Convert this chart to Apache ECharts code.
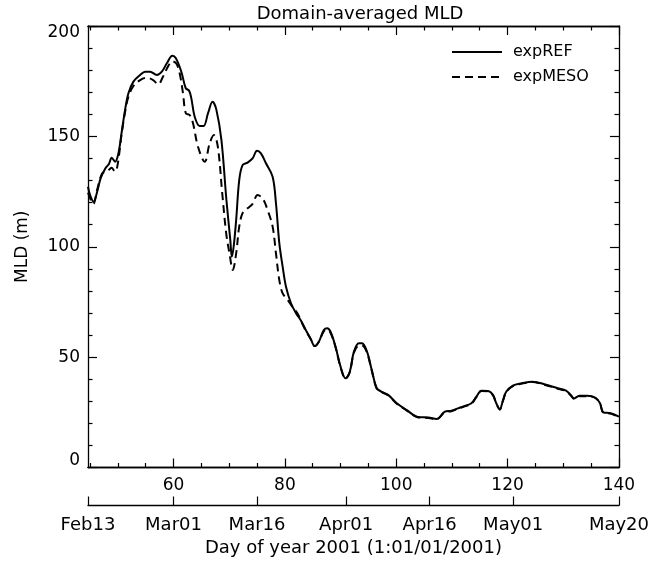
<!DOCTYPE html>
<html>
<head>
<meta charset="utf-8">
<title>Domain-averaged MLD</title>
<script src="https://cdn.jsdelivr.net/npm/echarts@6/dist/echarts.min.js"></script>
<style>
    html, body { margin: 0; padding: 0; background: #fff; }
    #chart { width: 652px; height: 563px; }
</style>
</head>
<body>
<div id="chart"></div>
<script>
// day of year / MLD (m)
var refDays = [44.64, 45.0, 45.64, 46.3, 46.9, 47.75, 48.4, 48.9, 49.5, 50.1, 50.7, 51.3, 51.9, 52.8, 54.0, 54.9, 55.8, 57.0, 57.9, 58.8, 59.8, 60.4, 61.4, 62.2, 62.8, 63.2, 63.8, 64.7, 65.4, 66.2, 67.0, 67.7, 68.6, 69.5, 70.2, 70.47, 70.8, 71.25, 71.8, 72.4, 73.3, 74.2, 75.0, 75.7, 76.6, 77.8, 78.4, 79.0, 79.6, 80.2, 81.1, 82.0, 82.9, 83.75, 84.6, 85.35, 86.1, 87.0, 87.6, 88.2, 89.1, 90.0, 90.9, 91.66, 92.4, 93.3, 93.86, 94.75, 95.6, 96.5, 97.4, 98.6, 100.1, 101.9, 103.7, 105.8, 107.25, 108.75, 109.9, 111.1, 112.3, 113.5, 114.4, 115.3, 116.5, 117.4, 117.97, 118.6, 119.2, 119.75, 120.95, 122.4, 124.5, 126.6, 129.0, 130.5, 131.35, 131.96, 132.9, 134.3, 135.8, 136.6, 137.2, 138.5, 140.0]
var refMld = [127.2, 123.5, 120.4, 125.0, 131.0, 135.5, 137.5, 140.3, 138.5, 142.3, 152.1, 162.0, 169.5, 174.8, 177.8, 179.3, 179.3, 177.8, 179.3, 183.1, 186.5, 185.5, 179.3, 171.8, 170.7, 167.2, 158.9, 154.7, 154.7, 160.5, 165.7, 162.0, 148.4, 121.2, 103.0, 95.5, 100.0, 112.1, 130.2, 137.0, 138.1, 140.0, 143.5, 142.3, 137.8, 131.7, 119.7, 101.6, 91.0, 81.9, 74.4, 69.9, 66.5, 62.3, 58.5, 55.0, 57.0, 62.3, 63.1, 61.5, 54.7, 45.7, 40.4, 43.4, 52.5, 56.3, 56.3, 52.5, 44.2, 35.9, 34.3, 32.8, 29.1, 26.0, 23.0, 22.6, 22.0, 25.3, 25.7, 26.8, 27.9, 29.1, 32.1, 34.8, 34.7, 32.8, 29.1, 26.5, 30.6, 34.3, 37.1, 38.1, 38.9, 37.7, 35.9, 34.8, 32.8, 31.3, 32.5, 32.5, 31.6, 29.1, 25.0, 24.6, 23.0]

var mesoDays = [44.64, 45.6, 46.3, 47.2, 48.04, 48.9, 49.45, 49.9, 50.7, 51.3, 51.9, 52.8, 54.0, 55.2, 56.35, 57.25, 58.1, 59.0, 59.8, 60.5, 61.1, 61.7, 62.2, 62.9, 63.5, 64.4, 65.6, 66.5, 67.25, 67.96, 68.75, 69.46, 70.05, 70.65, 71.25, 71.8, 72.4, 73.3, 74.2, 75.1, 76.0, 76.9, 77.8, 78.4, 79.0, 79.6, 80.5, 81.35, 82.25, 83.1, 83.75, 84.6, 85.35, 86.1, 87.0, 87.6, 88.2, 89.1, 90.0, 90.9, 91.66, 92.4, 93.3, 93.86, 94.75, 95.6, 96.5, 97.4, 98.6, 100.1, 101.9, 103.7, 105.8, 107.25, 108.75, 109.9, 111.1, 112.3, 113.5, 114.4, 115.3, 116.5, 117.4, 117.97, 118.6, 119.2, 119.75, 120.95, 122.4, 124.5, 126.6, 129.0, 130.5, 131.35, 131.96, 132.9, 134.3, 135.8, 136.6, 137.2, 138.5, 140.0]
var mesoMld = [124.5, 119.4, 126.0, 133.3, 134.0, 135.8, 134.0, 136.3, 151.4, 161.0, 168.0, 172.8, 175.5, 176.6, 175.5, 173.6, 177.0, 181.6, 184.0, 183.0, 178.6, 169.5, 160.5, 159.7, 155.9, 145.3, 138.5, 146.9, 150.6, 145.3, 124.2, 106.1, 97.0, 89.5, 97.0, 109.1, 115.2, 117.4, 119.4, 123.4, 121.9, 116.6, 109.1, 97.0, 84.9, 78.9, 75.9, 72.8, 69.9, 65.3, 62.0, 58.3, 55.0, 57.0, 61.8, 62.5, 61.0, 54.5, 45.5, 40.2, 43.2, 52.0, 55.3, 55.3, 52.0, 44.0, 35.7, 34.1, 32.6, 28.9, 25.8, 22.9, 22.4, 21.9, 25.1, 25.5, 26.6, 27.7, 28.9, 31.9, 34.6, 34.5, 32.6, 28.9, 26.2, 30.4, 34.1, 36.9, 37.9, 38.7, 37.5, 35.7, 34.6, 32.6, 31.1, 32.3, 32.3, 31.4, 28.9, 24.8, 24.4, 22.8]

// axis ticks
var dayMajorTicks = [60, 80, 100, 120, 140]
var dayMinorTicks = [45, 50, 55, 65, 70, 75, 85, 90, 95, 105, 110, 115, 125, 130, 135]
var dateTickDays = [44.64, 60, 75, 91, 106, 121, 140]
var dateTickLabels = ['Feb13', 'Mar01', 'Mar16', 'Apr01', 'Apr16', 'May01', 'May20']

var X_MIN = 44.64
var X_MAX = 140
var FONT = 'DejaVu Sans'
var INK = '#000'

function zip (xs, ys) {
    return xs.map(function (x, i) { return [x, ys[i]] })
}

var lineAxis = { show: true, lineStyle: { color: INK, width: 1.3 } }

// x axis builder: ticks only, or ticks + labels
function dayAxis (position, ticks, len, withLabels) {
    return {
        type: 'value',
        position: position,
        min: X_MIN,
        max: X_MAX,
        axisLine: lineAxis,
        splitLine: { show: false },
        axisTick: { show: true, inside: true, length: len, customValues: ticks, lineStyle: { color: INK, width: 1.2 } },
        axisLabel: withLabels ? {
            show: true, customValues: ticks, margin: 10,
            color: INK, fontFamily: FONT, fontSize: 17
        } : { show: false }
    }
}

function mldAxis (position, withLabels) {
    return {
        type: 'value',
        position: position,
        min: 0,
        max: 200,
        interval: 50,
        axisLine: lineAxis,
        splitLine: { show: false },
        axisTick: { show: true, inside: true, length: 9, lineStyle: { color: INK, width: 1.2 } },
        minorTick: { show: true, splitNumber: 5, length: 4.5, lineStyle: { color: INK, width: 1.2 } },
        minorSplitLine: { show: false },
        axisLabel: withLabels ? {
            show: true, margin: 8, color: INK, fontFamily: FONT, fontSize: 17, lineHeight: 14,
            verticalAlignMinLabel: 'bottom', verticalAlignMaxLabel: 'top'
        } : { show: false },
        name: withLabels ? 'MLD (m)' : '',
        nameLocation: 'middle',
        nameGap: 57,
        nameTextStyle: { color: INK, fontFamily: FONT, fontSize: 17 }
    }
}

var dateAxis = {
    type: 'value',
    position: 'bottom',
    offset: 38,
    min: X_MIN,
    max: X_MAX,
    axisLine: lineAxis,
    splitLine: { show: false },
    axisTick: { show: true, inside: true, length: 9, customValues: dateTickDays, lineStyle: { color: INK, width: 1.2 } },
    axisLabel: {
        show: true,
        customValues: dateTickDays,
        margin: 11,
        color: INK,
        fontFamily: FONT,
        fontSize: 18,
        formatter: function (v) {
            var i = dateTickDays.indexOf(v)
            return i >= 0 ? dateTickLabels[i] : ''
        }
    },
    name: 'Day of year 2001 (1:01/01/2001)',
    nameLocation: 'middle',
    nameGap: 33,
    nameTextStyle: { color: INK, fontFamily: FONT, fontSize: 18 }
}

var chart = echarts.init(document.getElementById('chart'), null, { renderer: 'canvas' })

chart.setOption({
    backgroundColor: '#fff',
    animation: false,
    title: {
        text: 'Domain-averaged MLD',
        left: 355,
        top: 0,
        textAlign: 'center',
        textStyle: { color: INK, fontFamily: FONT, fontSize: 18, fontWeight: 'normal' }
    },
    legend: {
        data: ['expREF', 'expMESO'],
        orient: 'vertical',
        left: 451,
        top: 44,
        itemWidth: 50,
        itemHeight: 18,
        itemGap: 9,
        padding: 0,
        itemStyle: { opacity: 0 },
        textStyle: { color: INK, fontFamily: FONT, fontSize: 16, padding: [0, 0, 0, 6] }
    },
    grid: { left: 88, top: 26, width: 533.5, height: 441.5 },
    xAxis: [
        dayAxis('bottom', dayMajorTicks, 9, true),
        dayAxis('bottom', dayMinorTicks, 4.5, false),
        dayAxis('top', dayMajorTicks, 9, false),
        dayAxis('top', dayMinorTicks, 4.5, false),
        dateAxis
    ],
    yAxis: [
        mldAxis('left', true),
        mldAxis('right', false)
    ],
    series: [
        {
            name: 'expREF',
            type: 'line',
            xAxisIndex: 0,
            yAxisIndex: 0,
            data: zip(refDays, refMld),
            symbol: 'none',
            smooth: 0.35,
            itemStyle: { color: INK },
            lineStyle: { color: INK, width: 2 }
        },
        {
            name: 'expMESO',
            type: 'line',
            xAxisIndex: 0,
            yAxisIndex: 0,
            data: zip(mesoDays, mesoMld),
            symbol: 'none',
            smooth: 0.35,
            itemStyle: { color: INK },
            lineStyle: { color: INK, width: 2, type: [8, 5] }
        }
    ]
})
</script>
</body>
</html>
